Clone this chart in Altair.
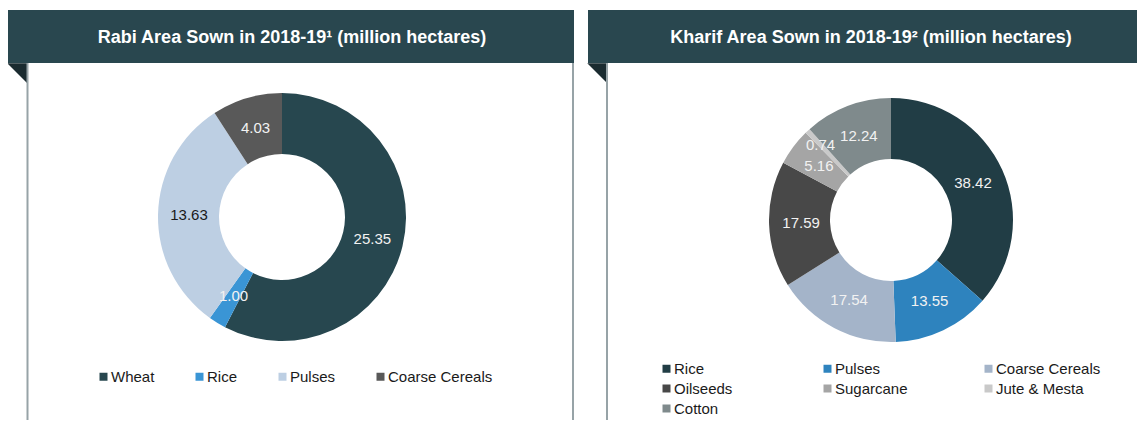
import altair as alt
import pandas as pd

rabi_crops = ["Wheat", "Rice", "Pulses", "Coarse Cereals"]
rabi_values = [25.35, 1.00, 13.63, 4.03]
rabi_colors = ["#27474F", "#3A95D5", "#BDCFE3", "#595959"]

kharif_crops = ["Rice", "Pulses", "Coarse Cereals", "Oilseeds", "Sugarcane", "Jute & Mesta", "Cotton"]
kharif_values = [38.42, 13.55, 17.54, 17.59, 5.16, 0.74, 12.24]
kharif_colors = ["#213D45", "#2E83BE", "#A4B4C9", "#484848", "#A5A5A5", "#C9C9C9", "#7F8A8C"]

rabi_title = "Rabi Area Sown in 2018-19¹ (million hectares)"
kharif_title = "Kharif Area Sown in 2018-19² (million hectares)"

W, H = 1129, 412
FONT = "Liberation Sans"
BANNER = "#29474F"
FLAP = "#1A2B30"
BORDER = "#97A3A7"
LABEL_LIGHT = "#F2F2F2"
LABEL_DARK = "#1A1A1A"


def frame(crops, values):
    return pd.DataFrame({
        "crop": crops,
        "value": values,
        "order": list(range(len(crops))),
        "label": [f"{v:.2f}" for v in values],
    })


rabi_df = frame(rabi_crops, rabi_values)
kharif_df = frame(kharif_crops, kharif_values)

blank = pd.DataFrame({"k": [0]})
base = alt.Chart(blank)

# decorations: banners, flaps, borders, titles
banner_l = base.mark_rect(color=BANNER).encode(
    x=alt.value(0), x2=alt.value(566), y=alt.value(2), y2=alt.value(55))
banner_r = base.mark_rect(color=BANNER).encode(
    x=alt.value(580), x2=alt.value(W), y=alt.value(2), y2=alt.value(55))
flap_shape = "M -1 -1 L 1 -1 L 1 1 Z"
flap_l = base.mark_point(shape=flap_shape, filled=True, color=FLAP, opacity=1, size=420).encode(
    x=alt.value(9.5), y=alt.value(65.5))
flap_r = base.mark_point(shape=flap_shape, filled=True, color=FLAP, opacity=1, size=420).encode(
    x=alt.value(589.5), y=alt.value(65.5))
rule_l1 = base.mark_rule(color=BORDER, strokeWidth=2).encode(
    x=alt.value(19.5), y=alt.value(55), y2=alt.value(H))
rule_l2 = base.mark_rule(color=BORDER, strokeWidth=2).encode(
    x=alt.value(565), y=alt.value(55), y2=alt.value(H))
rule_r1 = base.mark_rule(color=BORDER, strokeWidth=2).encode(
    x=alt.value(599), y=alt.value(55), y2=alt.value(H))
title_l = base.mark_text(font=FONT, fontSize=18, fontWeight="bold", color="white",
                         align="center", baseline="middle", text=rabi_title).encode(
    x=alt.value(284), y=alt.value(30))
title_r = base.mark_text(font=FONT, fontSize=18, fontWeight="bold", color="white",
                         align="center", baseline="middle", text=kharif_title).encode(
    x=alt.value(863), y=alt.value(30))


def legend(x, y, columns, col_pad):
    kw = dict(orient="none", legendX=x, legendY=y, direction="horizontal",
              columns=columns, symbolType="square", symbolSize=64,
              symbolStrokeWidth=0, labelFontSize=15, labelFont=FONT,
              labelColor=LABEL_DARK, labelOffset=0, columnPadding=col_pad,
              rowPadding=4, padding=0)
    if columns == 3:
        kw["gridAlign"] = "all"
    return alt.Legend(**kw)


# Rabi donut
cx_l, cy_l = 274, 209
arc_l = alt.Chart(rabi_df).mark_arc(innerRadius=63, outerRadius=124).encode(
    theta=alt.Theta("value:Q", stack=True),
    order=alt.Order("order:Q"),
    color=alt.Color("crop:N", title=None,
                    scale=alt.Scale(domain=rabi_crops, range=rabi_colors),
                    legend=legend(88, 361, 4, 37)),
    x=alt.value(cx_l), y=alt.value(cy_l),
)
text_l = alt.Chart(rabi_df).mark_text(radius=93, font=FONT, fontSize=15,
                                      align="center", baseline="middle").encode(
    theta=alt.Theta("value:Q", stack=True),
    order=alt.Order("order:Q"),
    text="label:N",
    color=alt.when(alt.datum.crop == "Pulses").then(alt.value(LABEL_DARK)).otherwise(alt.value(LABEL_LIGHT)),
    x=alt.value(cx_l), y=alt.value(cy_l),
)
left = alt.layer(arc_l, text_l)

# Kharif donut
cx_r, cy_r = 883, 212
arc_r = alt.Chart(kharif_df).mark_arc(innerRadius=61, outerRadius=122).encode(
    theta=alt.Theta("value:Q", stack=True),
    order=alt.Order("order:Q"),
    color=alt.Color("crop:N", title=None,
                    scale=alt.Scale(domain=kharif_crops, range=kharif_colors),
                    legend=legend(651, 353, 3, 41)),
    x=alt.value(cx_r), y=alt.value(cy_r),
)
text_r = alt.Chart(kharif_df).transform_calculate(
    lab="datum.crop == 'Jute & Mesta' ? '' : datum.label"
).mark_text(radius=90, font=FONT, fontSize=15, color=LABEL_LIGHT,
            align="center", baseline="middle").encode(
    theta=alt.Theta("value:Q", stack=True),
    order=alt.Order("order:Q"),
    text="lab:N",
    x=alt.value(cx_r), y=alt.value(cy_r),
)
text_r2 = alt.Chart(kharif_df).transform_calculate(
    lab="datum.crop == 'Jute & Mesta' ? datum.label : ''"
).mark_text(radius=103, font=FONT, fontSize=15, color=LABEL_LIGHT,
            align="center", baseline="middle").encode(
    theta=alt.Theta("value:Q", stack=True),
    order=alt.Order("order:Q"),
    text="lab:N",
    x=alt.value(cx_r), y=alt.value(cy_r),
)
right = alt.layer(arc_r, text_r, text_r2)

chart = alt.layer(
    banner_l, banner_r, flap_l, flap_r, rule_l1, rule_l2, rule_r1,
    title_l, title_r, left, right,
).resolve_scale(
    color="independent", theta="independent"
).properties(
    width=W, height=H, padding=0,
    autosize=alt.AutoSizeParams(type="none"),
    background="white",
).configure_view(stroke=None)

chart.save("out.html", embed_options={"renderer": "svg", "actions": False})
